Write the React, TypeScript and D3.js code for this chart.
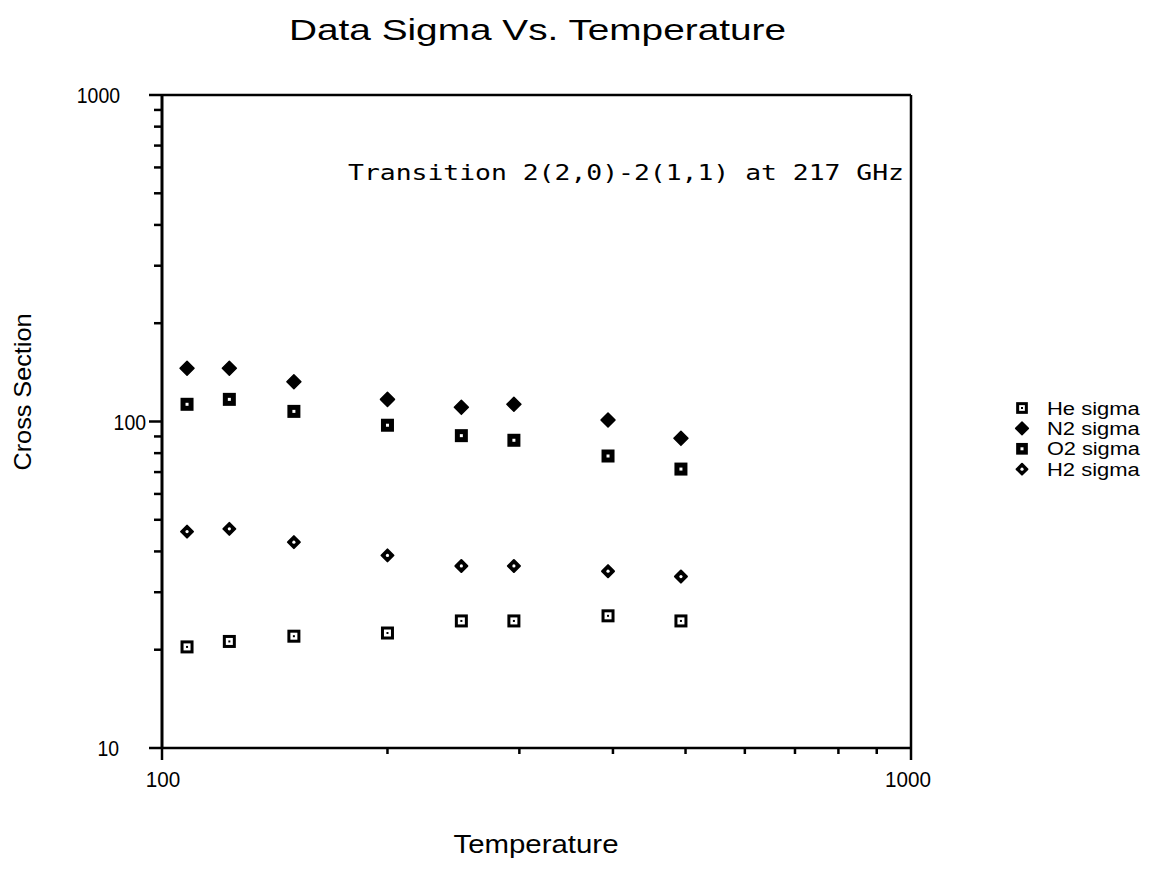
import React from "react";
import * as d3 from "d3";

const temperatures = [108, 123, 150, 200, 251, 295, 394, 493];
const heSigma = [20.4, 21.2, 22.0, 22.5, 24.5, 24.5, 25.4, 24.5];
const n2Sigma = [145.5, 145.5, 132.4, 116.9, 110.5, 112.9, 101.1, 88.8];
const o2Sigma = [112.9, 116.9, 107.4, 97.4, 90.5, 87.6, 78.4, 71.5];
const h2Sigma = [46.0, 46.9, 42.7, 38.9, 36.1, 36.1, 34.8, 33.5];

const seriesNames = ["He sigma", "N2 sigma", "O2 sigma", "H2 sigma"];
const seriesValues = [heSigma, n2Sigma, o2Sigma, h2Sigma];

const xDomain = [100, 1000];
const yDomain = [10, 1000];
const xTickLabels = ["100", "1000"];
const yTickLabels = ["10", "100", "1000"];

const titleText = "Data Sigma Vs. Temperature";
const xAxisTitle = "Temperature";
const yAxisTitle = "Cross Section";
const annotationText = "Transition 2(2,0)-2(1,1) at 217 GHz";

const SANS = "'Liberation Sans', Arial, Helvetica, sans-serif";
const MONO = "'DejaVu Sans Mono', 'Liberation Mono', monospace";

const L = 162, R = 911, T = 95, B = 748;

function Marker({ kind, cx, cy, scale = 1 }: { kind: number; cx: number; cy: number; scale?: number }) {
  const s = 6.5 * scale;
  if (kind === 0) {
    return (
      <g>
        <rect x={cx - s + 1.5} y={cy - s + 1.5} width={2 * s - 3} height={2 * s - 3} fill="#fff" stroke="#000" strokeWidth={3} />
        <rect x={cx - 1} y={cy - 1} width={2} height={2} fill="#000" />
      </g>
    );
  }
  if (kind === 1) {
    const d = 7 * scale;
    return (
      <path
        d={`M${cx},${cy - d}L${cx + d},${cy}L${cx},${cy + d}L${cx - d},${cy}Z`}
        fill="#000"
        stroke="#000"
        strokeWidth={1.5}
        strokeLinejoin="round"
      />
    );
  }
  if (kind === 2) {
    return (
      <g>
        <rect x={cx - s} y={cy - s} width={2 * s} height={2 * s} fill="#000" />
        <rect x={cx - 1.5} y={cy - 1.5} width={3} height={3} fill="#fff" />
      </g>
    );
  }
  const d = 6 * scale;
  return (
    <g>
      <path
        d={`M${cx},${cy - d}L${cx + d},${cy}L${cx},${cy + d}L${cx - d},${cy}Z`}
        fill="#000"
        stroke="#000"
        strokeWidth={2}
        strokeLinejoin="round"
      />
      <circle cx={cx} cy={cy} r={1.6} fill="#fff" />
    </g>
  );
}

export default function App() {
  const x = d3.scaleLog().domain(xDomain).range([L, R]);
  const y = d3.scaleLog().domain(yDomain).range([B, T]);
  const xTicks = x.ticks();
  const yTicks = y.ticks();
  const isMajor = (v: number) => Math.abs(Math.log10(v) - Math.round(Math.log10(v))) < 1e-9;

  const yLabelRight: Record<string, number> = { "10": 119, "100": 146, "1000": 120 };

  const legendX = 1022;
  const legendTextX = 1047;
  const legendY0 = 408;
  const legendStep = 20.4;

  return (
    <svg
      width={1150}
      height={890}
      style={{ position: "absolute", left: 0, top: 0, background: "#fff" }}
    >
      <rect x={0} y={0} width={1150} height={890} fill="#fff" />
      <text x={289} y={40} fontFamily={SANS} fontSize={30} textLength={497} lengthAdjust="spacingAndGlyphs">
        {titleText}
      </text>

      <line x1={L} y1={T} x2={R} y2={T} stroke="#000" strokeWidth={2.5} />
      <line x1={R} y1={T} x2={R} y2={B} stroke="#000" strokeWidth={2.5} />
      <line x1={L} y1={B} x2={R} y2={B} stroke="#000" strokeWidth={2.5} />
      <line x1={L} y1={T - 1} x2={L} y2={B + 1} stroke="#000" strokeWidth={3} />

      {yTicks.map((v, i) => (
        <line
          key={"yt" + i}
          x1={isMajor(v) ? L - 13 : L - 8}
          x2={L}
          y1={y(v)}
          y2={y(v)}
          stroke="#000"
          strokeWidth={2.5}
        />
      ))}
      {xTicks.map((v, i) => (
        <line
          key={"xt" + i}
          x1={x(v)}
          x2={x(v)}
          y1={B}
          y2={isMajor(v) ? B + 12 : B + 6}
          stroke="#000"
          strokeWidth={2.5}
        />
      ))}

      {yTickLabels.map((lab) => (
        <text
          key={"yl" + lab}
          x={yLabelRight[lab]}
          y={y(+lab) + 8}
          textAnchor="end"
          fontFamily={SANS}
          fontSize={22}
          textLength={lab.length * 10.8}
          lengthAdjust="spacingAndGlyphs"
        >
          {lab}
        </text>
      ))}
      {xTickLabels.map((lab) => (
        <text
          key={"xl" + lab}
          x={x(+lab) + (lab === "100" ? 1 : -3)}
          y={787}
          textAnchor="middle"
          fontFamily={SANS}
          fontSize={22}
          textLength={lab.length * 11.5}
          lengthAdjust="spacingAndGlyphs"
        >
          {lab}
        </text>
      ))}

      <text x={536} y={853} textAnchor="middle" fontFamily={SANS} fontSize={26} textLength={165} lengthAdjust="spacingAndGlyphs">
        {xAxisTitle}
      </text>
      <text
        transform={`translate(31,392) rotate(-90)`}
        textAnchor="middle"
        fontFamily={SANS}
        fontSize={24}
        textLength={157}
        lengthAdjust="spacingAndGlyphs"
      >
        {yAxisTitle}
      </text>

      <text x={348} y={180} fontFamily={MONO} fontSize={21} textLength={556} lengthAdjust="spacingAndGlyphs">
        {annotationText}
      </text>

      {seriesValues.map((vals, si) =>
        vals.map((v, i) => (
          <Marker key={si + "-" + i} kind={si} cx={x(temperatures[i])} cy={y(v)} />
        ))
      )}

      {seriesNames.map((name, si) => (
        <g key={"lg" + si}>
          <Marker kind={si} cx={legendX} cy={legendY0 + si * legendStep} scale={0.9} />
          <text x={legendTextX} y={legendY0 + si * legendStep + 6.5} fontFamily={SANS} fontSize={18} textLength={name.length * 11.6} lengthAdjust="spacingAndGlyphs">
            {name}
          </text>
        </g>
      ))}
    </svg>
  );
}
